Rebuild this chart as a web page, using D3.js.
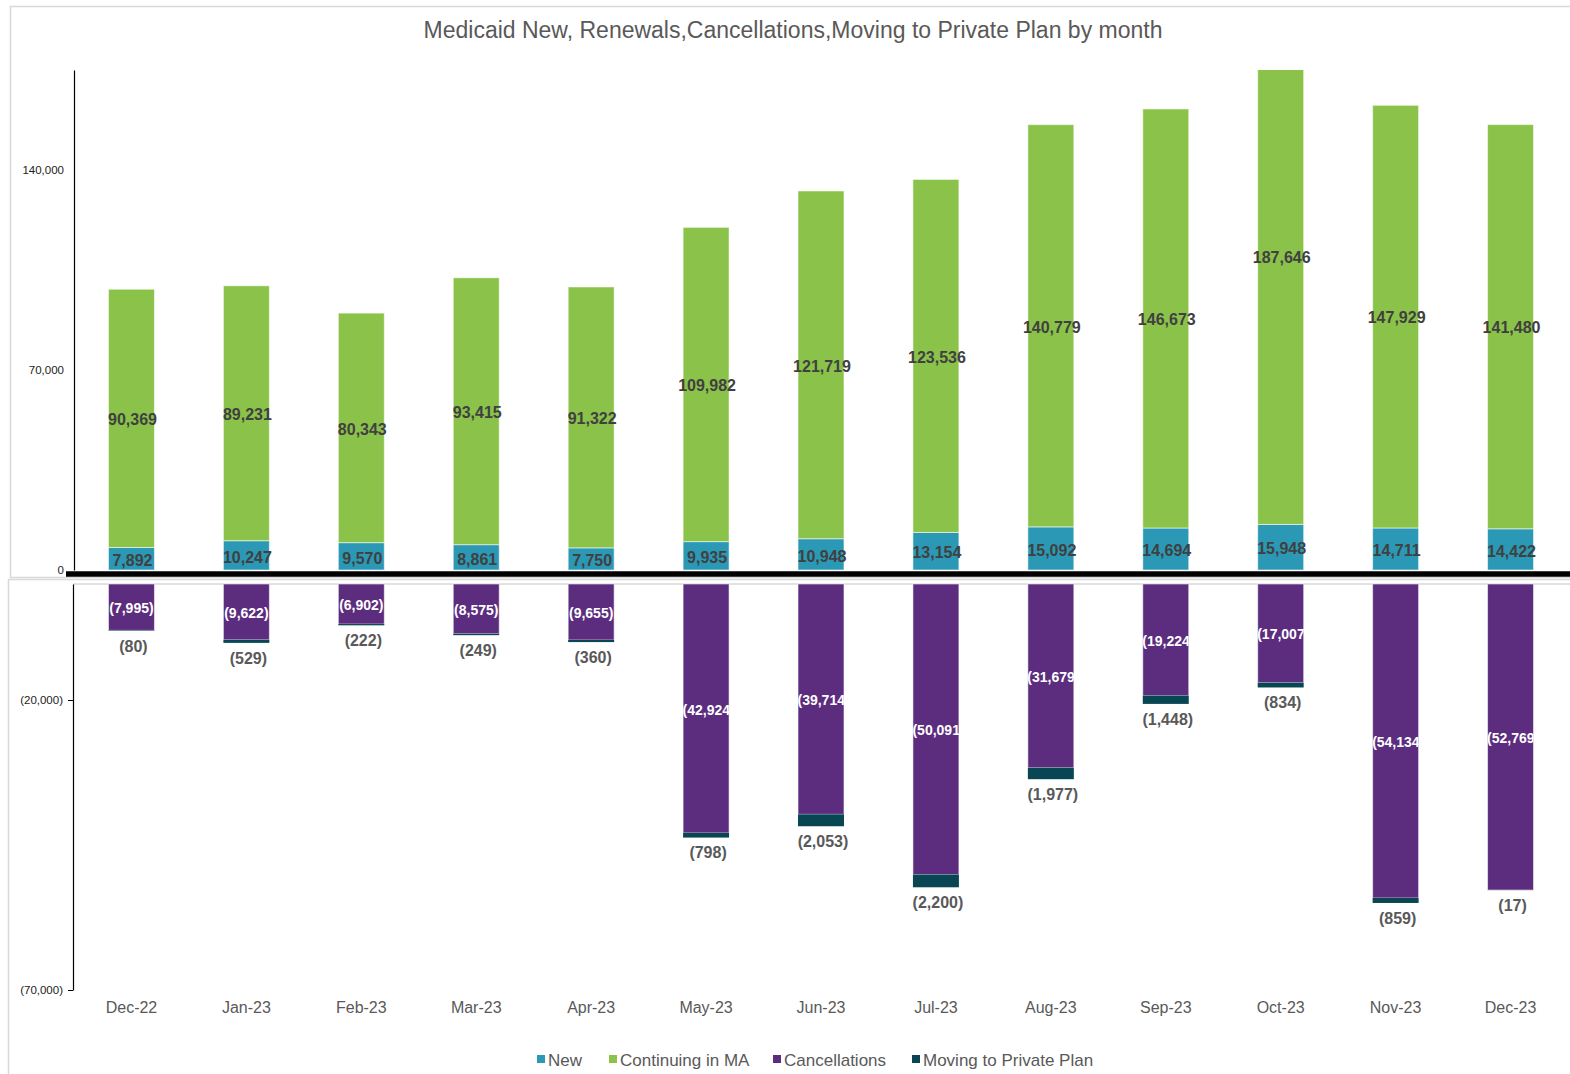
<!DOCTYPE html>
<html>
<head>
<meta charset="utf-8">
<script src="https://cdn.jsdelivr.net/npm/d3@7"></script>
<style>
  html, body { margin: 0; padding: 0; background: #fff; }
  svg { display: block; font-family: "Liberation Sans", Arial, sans-serif; }
</style>
</head>
<body>
<svg id="chart" width="1570" height="1074"></svg>
<script>
// ---- data ----
const months = ["Dec-22","Jan-23","Feb-23","Mar-23","Apr-23","May-23","Jun-23","Jul-23","Aug-23","Sep-23","Oct-23","Nov-23","Dec-23"];
const newEnroll = [7892, 10247, 9570, 8861, 7750, 9935, 10948, 13154, 15092, 14694, 15948, 14711, 14422];
const continuing = [90369, 89231, 80343, 93415, 91322, 109982, 121719, 123536, 140779, 146673, 187646, 147929, 141480];
const cancellations = [7995, 9622, 6902, 8575, 9655, 42924, 39714, 50091, 31679, 19224, 17007, 54134, 52769];
const movingPrivate = [80, 529, 222, 249, 360, 798, 2053, 2200, 1977, 1448, 834, 859, 17];
const topTicks = [0, 70000, 140000];
const bottomTicks = [-20000, -70000];
const seriesNames = ["New", "Continuing in MA", "Cancellations", "Moving to Private Plan"];
const seriesColors = ["#2b99b6", "#8bc34a", "#5c2d7e", "#074652"];
const titleText = "Medicaid New, Renewals,Cancellations,Moving to Private Plan by month";

// ---- setup ----
const svg = d3.select("#chart");
const fmt = d3.format(",");
const fmtNeg = v => "(" + fmt(Math.abs(v)) + ")";
const barStroke = "rgba(255,255,255,0.55)";

// frames
svg.append("rect").attr("x", 10.5).attr("y", 6.5).attr("width", 1600).attr("height", 571)
  .attr("fill", "none").attr("stroke", "#d9d9d9").attr("stroke-width", 1.5);
svg.append("rect").attr("x", 8.5).attr("y", 579.5).attr("width", 1600).attr("height", 600)
  .attr("fill", "none").attr("stroke", "#d9d9d9").attr("stroke-width", 1.5);

// title
svg.append("text").attr("x", 793).attr("y", 37.5).attr("text-anchor", "middle")
  .attr("fill", "#595959").attr("font-size", "23px").text(titleText);

const x = d3.scaleBand().domain(months).range([74, 1568]).paddingInner(0.6).paddingOuter(0.3);
const yTop = d3.scaleLinear().domain([0, 175000]).range([570, 70]);
const yBot = d3.scaleLinear().domain([-70000, 0]).range([990, 584]);

// ---- top chart ----
svg.append("clipPath").attr("id", "topClip").append("rect")
  .attr("x", 0).attr("y", 70).attr("width", 1570).attr("height", 500);

const topData = months.map((m, i) => ({ m, n: newEnroll[i], c: continuing[i] }));
const gTop = svg.append("g").attr("clip-path", "url(#topClip)");
gTop.selectAll("rect.new").data(topData).join("rect").attr("class", "new")
  .attr("x", d => x(d.m)).attr("width", x.bandwidth())
  .attr("y", d => yTop(d.n)).attr("height", d => yTop(0) - yTop(d.n))
  .attr("fill", seriesColors[0]).attr("stroke", barStroke).attr("stroke-width", 1);
gTop.selectAll("rect.cont").data(topData).join("rect").attr("class", "cont")
  .attr("x", d => x(d.m)).attr("width", x.bandwidth())
  .attr("y", d => yTop(d.n + d.c)).attr("height", d => yTop(d.n) - yTop(d.n + d.c))
  .attr("fill", seriesColors[1]).attr("stroke", barStroke).attr("stroke-width", 1);

const lblTop = svg.append("g").attr("font-weight", "bold").attr("font-size", "16px")
  .attr("fill", "#404040").attr("text-anchor", "middle");
lblTop.selectAll("text.ln").data(topData).join("text").attr("class", "ln")
  .attr("x", d => x(d.m) + x.bandwidth() / 2 + 1)
  .attr("y", d => (yTop(0) + yTop(d.n)) / 2 + 1.5).attr("dy", "0.36em")
  .text(d => fmt(d.n));
lblTop.selectAll("text.lc").data(topData).join("text").attr("class", "lc")
  .attr("x", d => x(d.m) + x.bandwidth() / 2 + 1)
  .attr("y", d => (yTop(d.n) + yTop(d.n + d.c)) / 2 + 1).attr("dy", "0.36em")
  .text(d => fmt(d.c));

// top y axis
const axTop = svg.append("g").attr("transform", "translate(74,0)")
  .call(d3.axisLeft(yTop).tickValues(topTicks).tickSize(0).tickPadding(10).tickFormat(fmt));
axTop.select(".domain").attr("stroke", "#000").attr("stroke-width", 1.2);
axTop.selectAll("text").attr("font-size", "11.5px").attr("fill", "#222")
  .attr("font-family", "Liberation Sans, Arial, sans-serif");

// thick black baseline
svg.append("line").attr("x1", 66).attr("x2", 1570).attr("y1", 574).attr("y2", 574)
  .attr("stroke", "#000").attr("stroke-width", 5.5);

// ---- bottom chart ----
svg.append("line").attr("x1", 73).attr("x2", 1570).attr("y1", yBot(0)).attr("y2", yBot(0))
  .attr("stroke", "#d9d9d9").attr("stroke-width", 1.5);

const botData = months.map((m, i) => ({ m, c: cancellations[i], p: movingPrivate[i], i }));
const gBot = svg.append("g");
gBot.selectAll("rect.can").data(botData).join("rect").attr("class", "can")
  .attr("x", d => x(d.m)).attr("width", x.bandwidth())
  .attr("y", yBot(0)).attr("height", d => yBot(-d.c) - yBot(0))
  .attr("fill", seriesColors[2]).attr("stroke", barStroke).attr("stroke-width", 1);
gBot.selectAll("rect.mov").data(botData).join("rect").attr("class", "mov")
  .attr("x", d => x(d.m)).attr("width", x.bandwidth())
  .attr("y", d => yBot(-d.c)).attr("height", d => yBot(-d.c - d.p) - yBot(-d.c))
  .attr("fill", seriesColors[3]);

// cancellation labels clipped to the bar
const defs = svg.append("defs");
botData.forEach(d => {
  defs.append("clipPath").attr("id", "cc" + d.i).append("rect")
    .attr("x", x(d.m)).attr("y", yBot(0)).attr("width", x.bandwidth())
    .attr("height", yBot(-d.c) - yBot(0));
});
const lblCan = svg.append("g").attr("font-weight", "bold").attr("font-size", "14px").attr("fill", "#fff");
lblCan.selectAll("text").data(botData).join("text")
  .attr("clip-path", d => "url(#cc" + d.i + ")")
  .attr("x", d => x(d.m) + x.bandwidth() / 2).attr("text-anchor", "middle")
  .attr("y", d => (yBot(0) + yBot(-d.c)) / 2 + 1).attr("dy", "0.36em")
  .text(d => fmtNeg(-d.c))
  .each(function(d) {
    const w = this.getComputedTextLength();
    if (w > x.bandwidth()) {
      d3.select(this).attr("text-anchor", "start").attr("x", x(d.m) - 0.5);
    }
  });

const lblMov = svg.append("g").attr("font-weight", "bold").attr("font-size", "16px")
  .attr("fill", "#595959").attr("text-anchor", "middle");
lblMov.selectAll("text").data(botData).join("text")
  .attr("x", d => x(d.m) + x.bandwidth() / 2 + 2)
  .attr("y", d => yBot(-d.c - d.p) + 15).attr("dy", "0.36em")
  .text(d => fmtNeg(-d.p));

// bottom y axis
const axBot = svg.append("g").attr("transform", "translate(73,0)")
  .call(d3.axisLeft(yBot).tickValues(bottomTicks).tickSize(5).tickSizeOuter(0).tickPadding(5).tickFormat(fmtNeg));
axBot.select(".domain").attr("stroke", "#000").attr("stroke-width", 1.2);
axBot.selectAll(".tick line").attr("stroke", "#000");
axBot.selectAll("text").attr("font-size", "11.5px").attr("fill", "#222")
  .attr("font-family", "Liberation Sans, Arial, sans-serif");

// x labels
svg.append("g").selectAll("text").data(months).join("text")
  .attr("x", d => x(d) + x.bandwidth() / 2).attr("y", 1013)
  .attr("text-anchor", "middle").attr("font-size", "16px").attr("fill", "#595959")
  .text(d => d);

// legend
const legendX = [537, 609, 773, 912];
const lg = svg.append("g");
seriesNames.forEach((n, i) => {
  lg.append("rect").attr("x", legendX[i]).attr("y", 1055).attr("width", 8).attr("height", 8)
    .attr("fill", seriesColors[i]);
  lg.append("text").attr("x", legendX[i] + 11).attr("y", 1066)
    .attr("font-size", "17px").attr("fill", "#595959").text(n);
});
</script>
</body>
</html>
